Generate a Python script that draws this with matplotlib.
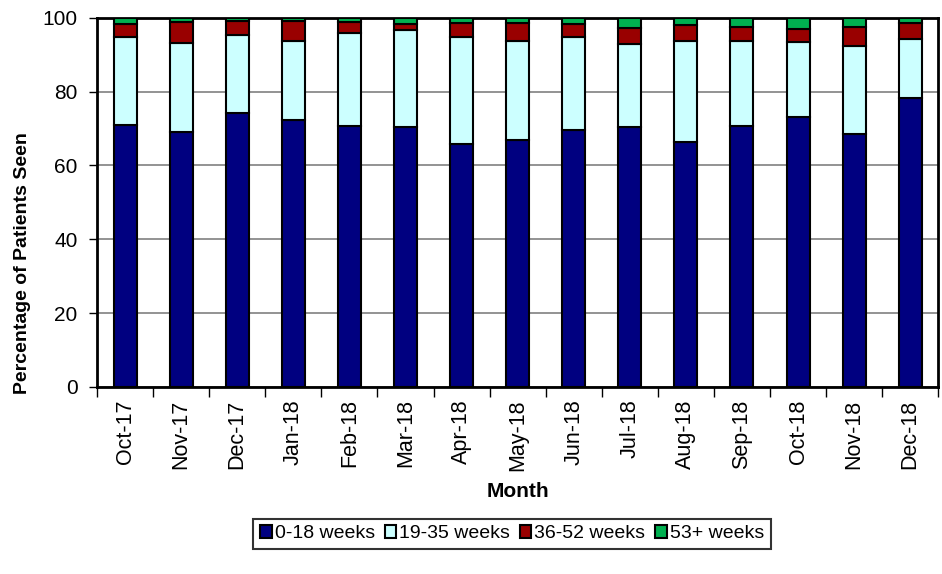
import numpy as np
import matplotlib
matplotlib.use("Agg")
import matplotlib.pyplot as plt
from matplotlib.ticker import FixedLocator

plt.rcParams['font.family'] = ['Liberation Sans', 'DejaVu Sans']

months = ["Oct-17", "Nov-17", "Dec-17", "Jan-18", "Feb-18", "Mar-18", "Apr-18",
          "May-18", "Jun-18", "Jul-18", "Aug-18", "Sep-18", "Oct-18", "Nov-18", "Dec-18"]
wk_0_18 = [71.0, 69.0, 74.3, 72.4, 70.7, 70.3, 65.9, 66.8, 69.6, 70.3, 66.4, 70.7, 73.0, 68.4, 78.4]
wk_19_35 = [23.8, 24.1, 21.0, 21.2, 25.1, 26.3, 29.0, 27.0, 25.1, 22.5, 27.4, 23.1, 20.5, 24.0, 15.9]
wk_36_52 = [3.5, 5.7, 3.9, 5.6, 3.0, 1.8, 3.7, 4.9, 3.7, 4.3, 4.3, 3.6, 3.5, 5.2, 4.3]
wk_53_plus = [1.7, 1.2, 0.8, 0.8, 1.2, 1.6, 1.4, 1.3, 1.6, 2.9, 1.9, 2.6, 3.0, 2.4, 1.4]

series = [("0-18 weeks", wk_0_18, "#000080"),
          ("19-35 weeks", wk_19_35, "#CCFFFF"),
          ("36-52 weeks", wk_36_52, "#990000"),
          ("53+ weeks", wk_53_plus, "#00B050")]

fig = plt.figure(figsize=(9.42, 5.74), dpi=100)
ax = fig.add_axes([0.103, 0.326, 0.893, 0.643])

x = np.arange(len(months))
bottom = np.zeros(len(months))
for name, vals, col in series:
    ax.bar(x, vals, 0.41, bottom=bottom, color=col, edgecolor="black",
           linewidth=1.5, label=name, zorder=3)
    bottom += np.array(vals)

ax.set_xlim(-0.5, len(months) - 0.5)
ax.set_ylim(0, 100)
ax.set_yticks(range(0, 101, 20))
ax.yaxis.grid(True, color="#808080", linewidth=1.2, zorder=0)
ax.tick_params(axis="y", labelsize=15, length=6, width=1, direction="out", pad=8)

ax.set_xticks(x)
ax.set_xticklabels(months, rotation=90, fontsize=15.5)
ax.tick_params(axis="x", which="major", length=0, pad=9)
ax.xaxis.set_minor_locator(FixedLocator(np.arange(-0.5, len(months), 1.0)))
ax.tick_params(axis="x", which="minor", length=7, width=1, direction="out")

for s in ax.spines.values():
    s.set_linewidth(2)
    s.set_color("black")

fig.text(0.024, 0.542, "Percentage of Patients Seen", rotation=90, fontsize=14,
         fontweight="bold", ha="center", va="center")
fig.text(0.55, 0.143, "Month", fontsize=15, fontweight="bold", ha="center", va="center")

handles, labels = ax.get_legend_handles_labels()
leg = fig.legend(handles, labels, loc="center", bbox_to_anchor=(0.5435, 0.070), ncol=4,
                 fontsize=14, frameon=True, fancybox=False, edgecolor="black",
                 handlelength=0.6, handleheight=0.6, handletextpad=0.15,
                 columnspacing=0.5, borderpad=0.35)
leg.get_frame().set_linewidth(1.5)

fig.savefig("out.png", dpi=100)
